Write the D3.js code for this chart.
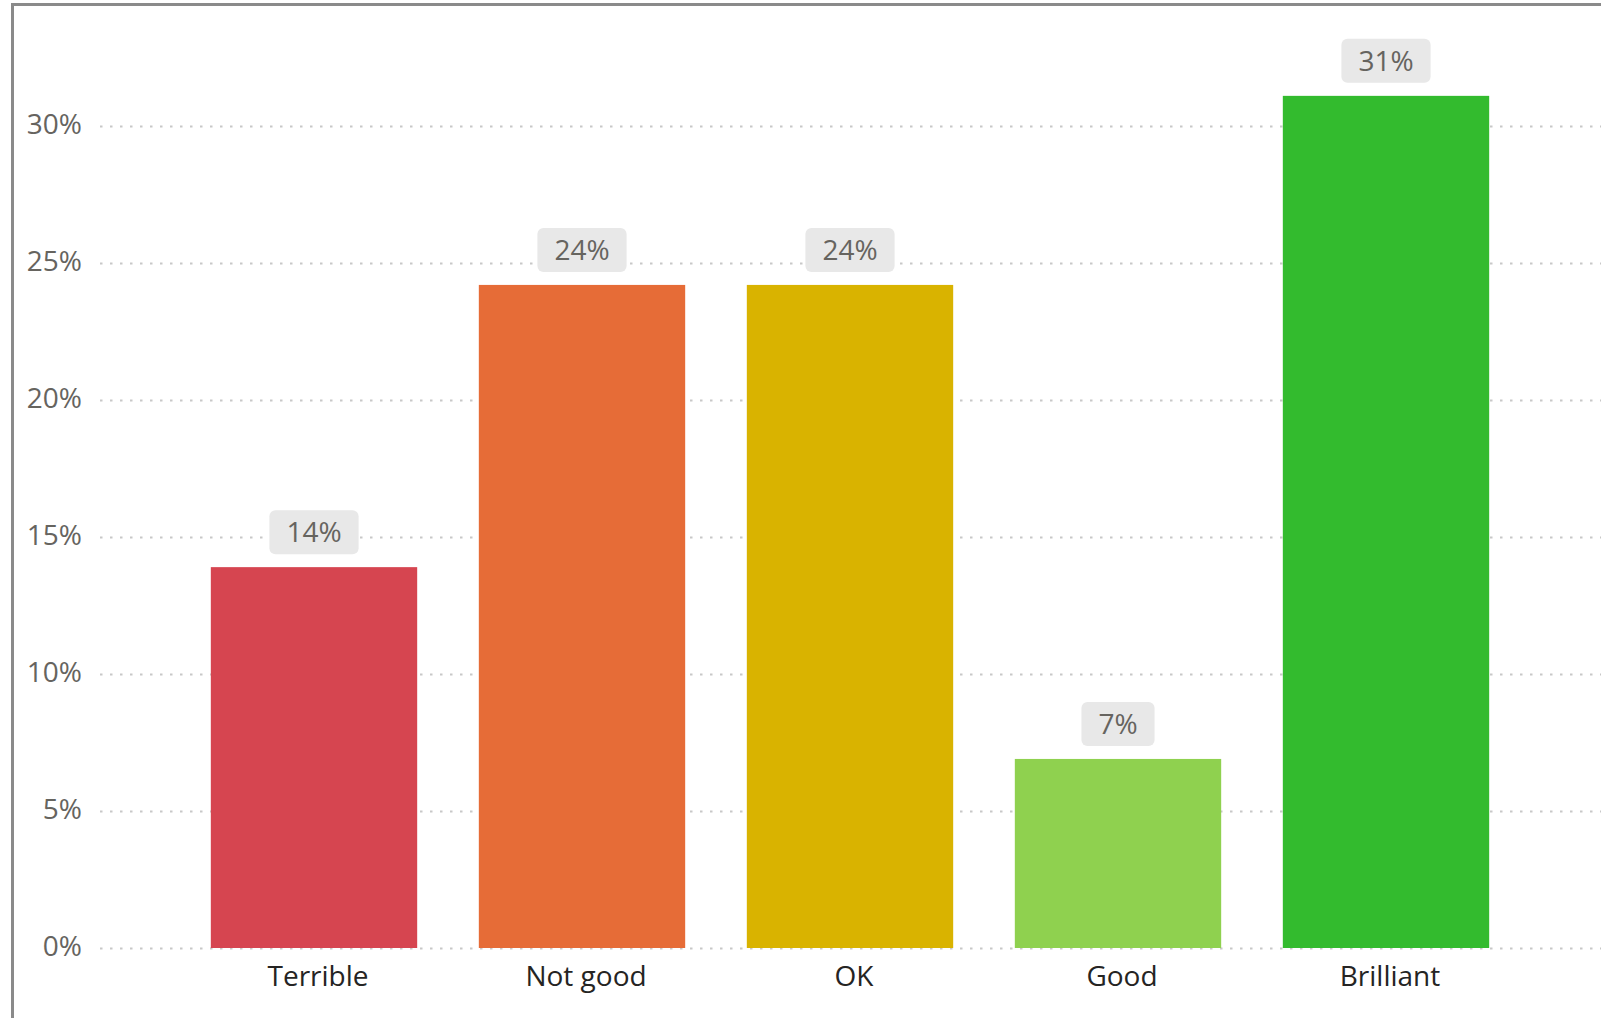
<!DOCTYPE html>
<html>
<head>
<meta charset="utf-8">
<script src="https://cdn.jsdelivr.net/npm/d3@7"></script>
<style>
  html, body { margin: 0; padding: 0; background: #ffffff; }
  svg { display: block; }
  text { font-family: "Open Sans", "Noto Sans", sans-serif; }
</style>
</head>
<body>
<svg id="chart" width="1601" height="1018"></svg>
<script>
// Survey ratings and their share of responses
const categories = ["Terrible", "Not good", "OK", "Good", "Brilliant"];
const shares = [0.139, 0.242, 0.242, 0.069, 0.311];
const barColors = ["#D64550", "#E66C37", "#D9B300", "#8FD14F", "#33BB2E"];
const yTicks = [0, 0.05, 0.10, 0.15, 0.20, 0.25, 0.30];

const W = 1601, H = 1018;
const svg = d3.select("#chart");

// Frame: left and top edges of the visual container
svg.append("line").attr("x1", 12.5).attr("x2", 12.5).attr("y1", 4).attr("y2", H)
  .attr("stroke", "#8a8a8a").attr("stroke-width", 3);
svg.append("line").attr("x1", 11).attr("x2", W).attr("y1", 4.5).attr("y2", 4.5)
  .attr("stroke", "#8a8a8a").attr("stroke-width", 3);

const x = d3.scaleBand()
  .domain(categories)
  .range([180, 1520])
  .paddingInner(0.23)
  .paddingOuter(0.115);

const y = d3.scaleLinear()
  .domain([0, 0.30])
  .range([948, 126]);

// Dotted horizontal gridlines
const grid = svg.append("g")
  .attr("transform", "translate(100,0)")
  .call(d3.axisLeft(y).tickValues(yTicks).tickSize(-(W - 100)).tickFormat(""));
grid.select(".domain").remove();
grid.selectAll(".tick line")
  .attr("stroke", "#c8c8c8")
  .attr("stroke-width", 2)
  .attr("stroke-dasharray", "2.5,7.5");

// Y axis labels
const yAxis = svg.append("g")
  .attr("transform", "translate(82,0)")
  .call(d3.axisLeft(y).tickValues(yTicks).tickSize(0).tickPadding(0).tickFormat(d3.format(".0%")));
yAxis.select(".domain").remove();
yAxis.selectAll("text")
  .attr("font-size", 28)
  .attr("dy", "0.25em")
  .attr("fill", "#66645f")
  .attr("font-family", "'Open Sans', sans-serif");

// Bars
const data = categories.map((c, i) => ({ cat: c, v: shares[i], color: barColors[i] }));
svg.append("g").selectAll("rect")
  .data(data)
  .join("rect")
  .attr("x", d => x(d.cat))
  .attr("width", x.bandwidth())
  .attr("y", d => y(d.v))
  .attr("height", d => y(0) - y(d.v))
  .attr("fill", d => d.color);

// X axis labels
const xAxis = svg.append("g")
  .attr("transform", `translate(4,${y(0)})`)
  .call(d3.axisBottom(x).tickSize(0).tickPadding(18));
xAxis.select(".domain").remove();
xAxis.selectAll("text")
  .attr("font-size", 28)
  .attr("fill", "#252423")
  .attr("font-family", "'Open Sans', sans-serif");

// Value labels in rounded grey boxes above each bar
const fmt = d3.format(".0%");
const labels = svg.append("g").selectAll("g")
  .data(data)
  .join("g")
  .attr("transform", d => `translate(${x(d.cat) + x.bandwidth() / 2},${y(d.v) - 35})`);

labels.append("text")
  .attr("text-anchor", "middle")
  .attr("dy", "0.35em")
  .attr("font-size", 28)
  .attr("fill", "#66645f")
  .text(d => fmt(d.v));

labels.each(function () {
  const g = d3.select(this);
  const t = g.select("text").node().getComputedTextLength();
  const bw = t + 34, bh = 44;
  g.insert("rect", "text")
    .attr("x", -bw / 2)
    .attr("y", -bh / 2)
    .attr("width", bw)
    .attr("height", bh)
    .attr("rx", 6)
    .attr("fill", "#E8E8E8");
});
</script>
</body>
</html>
